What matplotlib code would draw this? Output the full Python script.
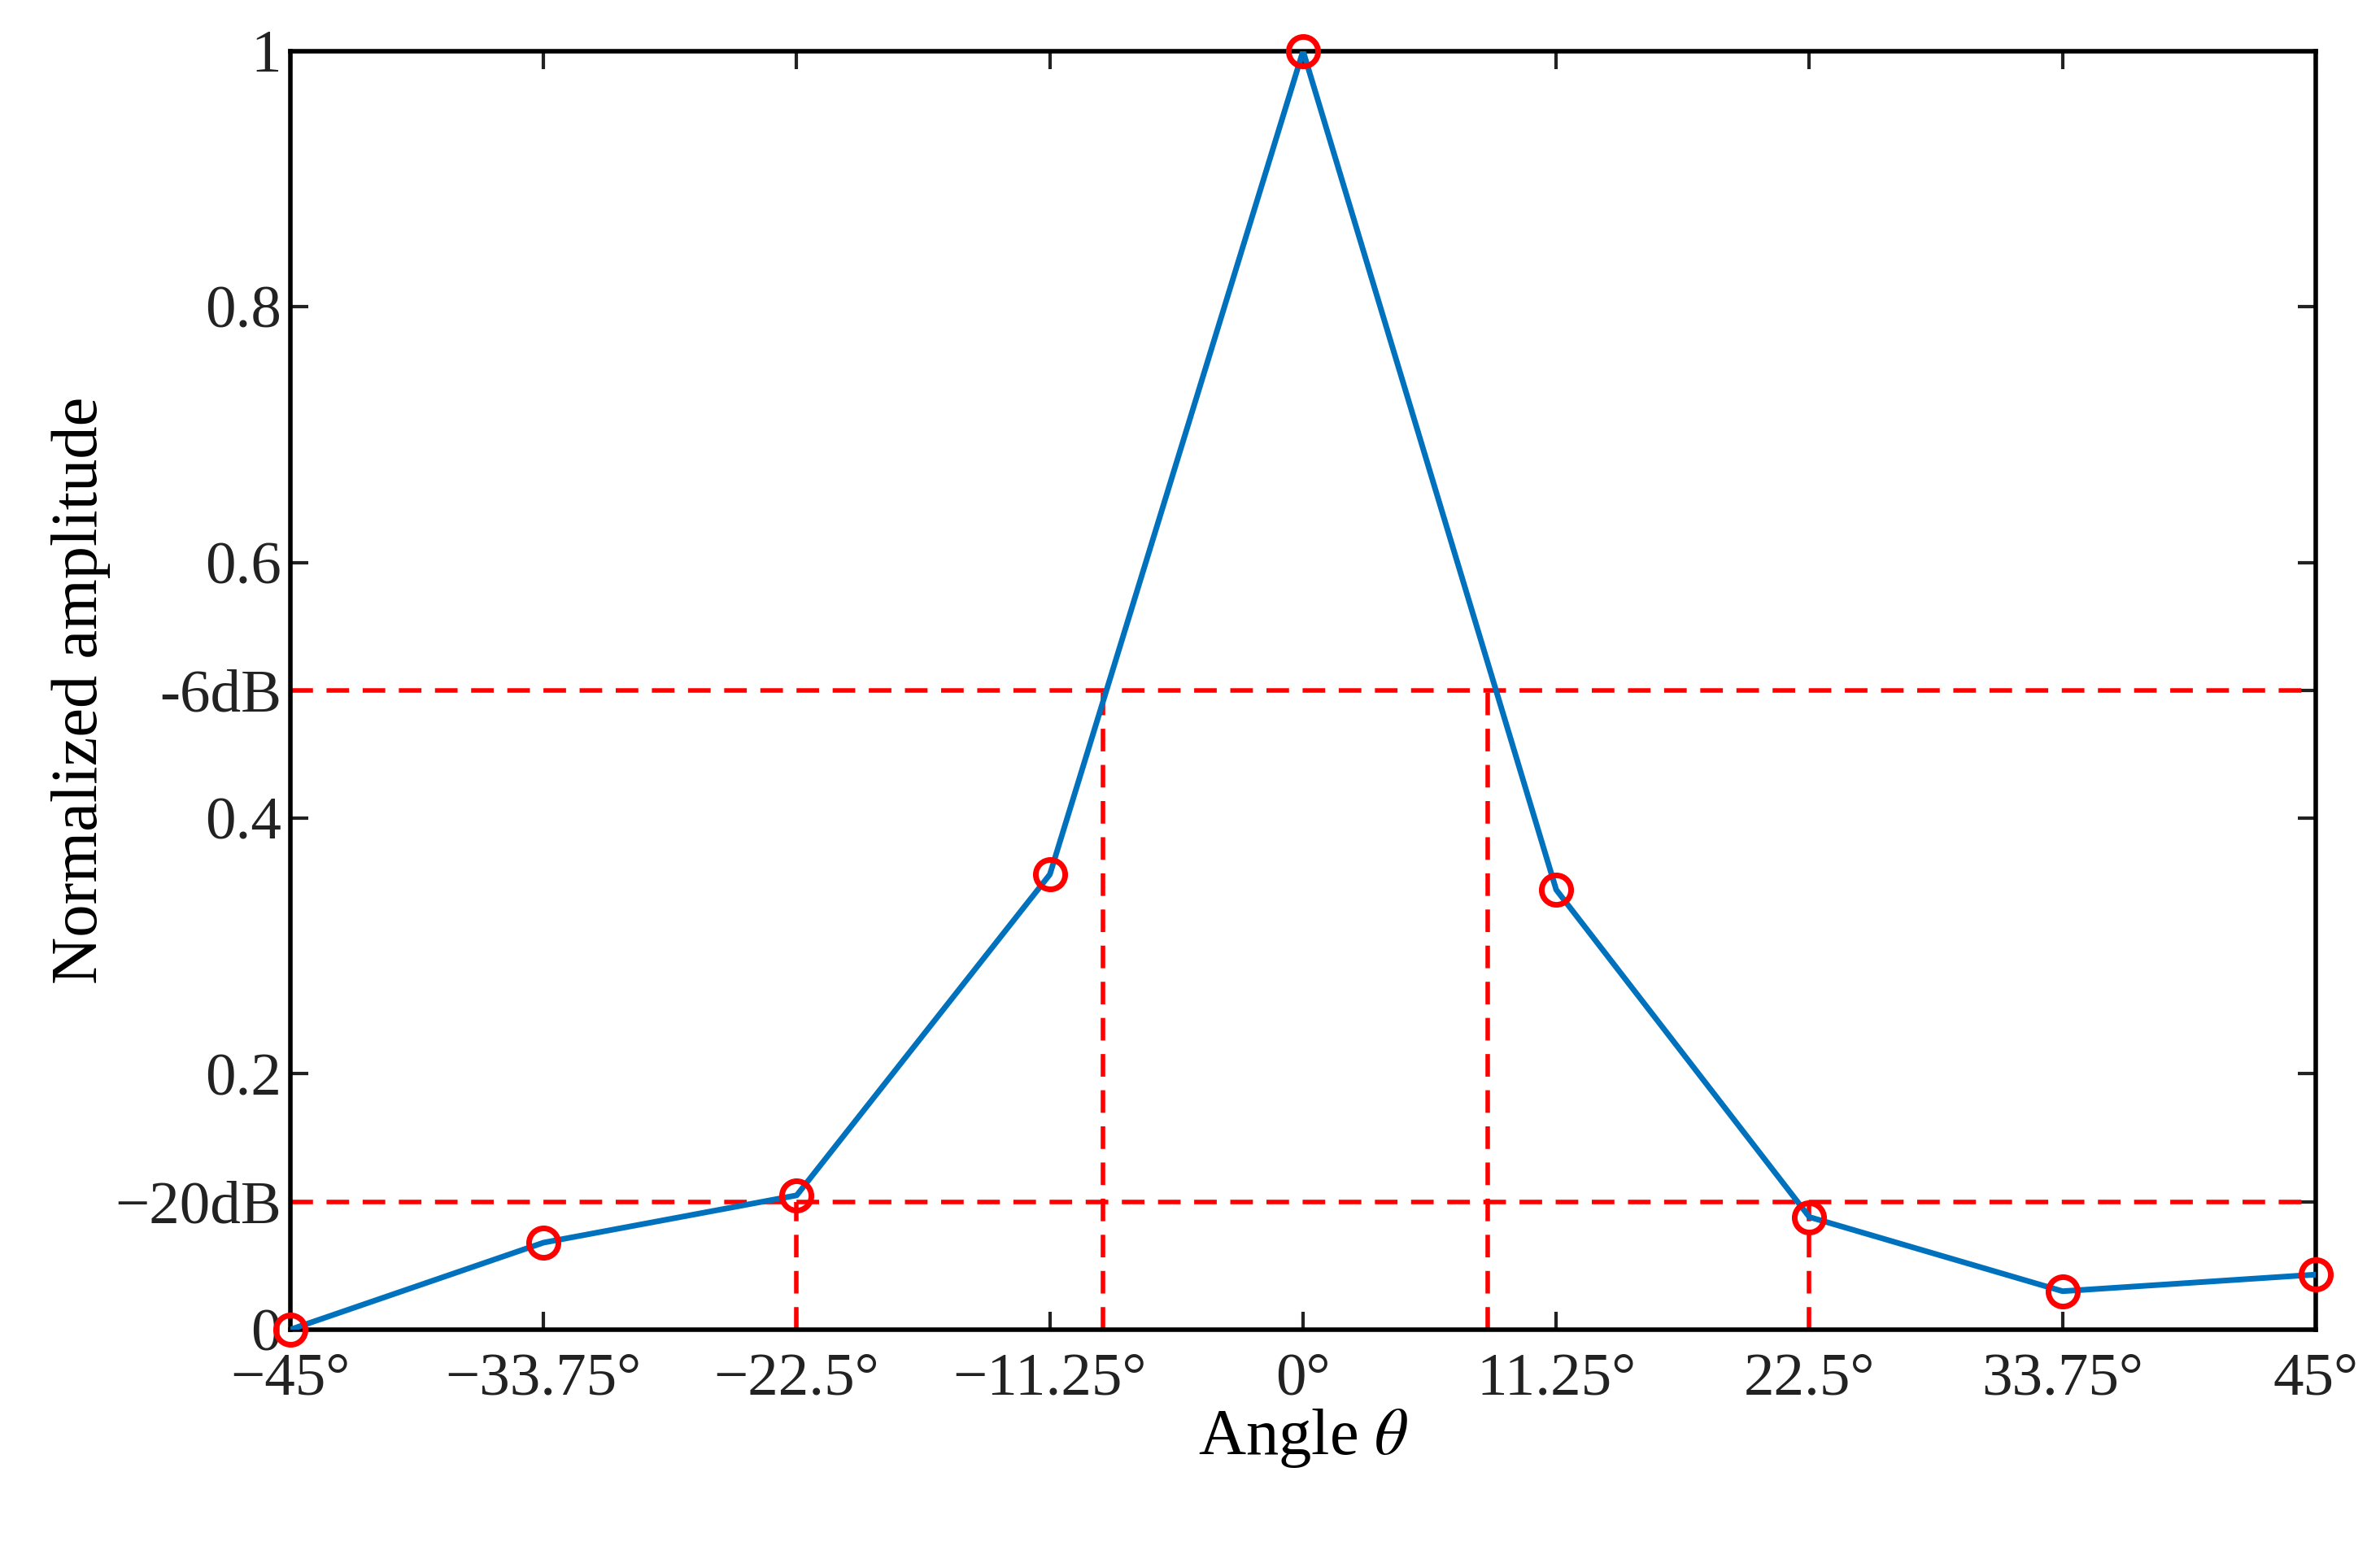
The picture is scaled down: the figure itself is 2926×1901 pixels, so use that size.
import matplotlib
matplotlib.use("Agg")
import matplotlib.pyplot as plt

plt.rcParams['font.family'] = ['Liberation Serif', 'DejaVu Serif']
plt.rcParams['mathtext.fontset'] = 'stix'

angles = [-45, -33.75, -22.5, -11.25, 0, 11.25, 22.5, 33.75, 45]
amplitude = [0.0, 0.068, 0.105, 0.356, 1.0, 0.344, 0.088, 0.030, 0.043]
xtick_labels = ["\u221245\u00b0", "\u221233.75\u00b0", "\u221222.5\u00b0", "\u221211.25\u00b0", "0\u00b0",
                "11.25\u00b0", "22.5\u00b0", "33.75\u00b0", "45\u00b0"]
level_6db = 0.5
level_20db = 0.1
cross_6db = [-8.9, 8.2]
cross_20db = [-22.5, 22.5]
yticks = [0, level_20db, 0.2, 0.4, level_6db, 0.6, 0.8, 1]
ytick_labels = ["0", "\u221220dB", "0.2", "0.4", "-6dB", "0.6", "0.8", "1"]

fig = plt.figure(figsize=(14.63, 9.505), dpi=200)
ax = fig.add_axes([0.122, 0.140, 0.851, 0.827])

red = "#ff0000"
ax.axhline(level_6db, color=red, ls="--", lw=2, dashes=(5, 3))
ax.axhline(level_20db, color=red, ls="--", lw=2, dashes=(5, 3))
for x in cross_6db:
    ax.plot([x, x], [0, level_6db], color=red, ls="--", lw=2, dashes=(5, 3))
for x in cross_20db:
    ax.plot([x, x], [0, level_20db], color=red, ls="--", lw=2, dashes=(5, 3))

ax.plot(angles, amplitude, color="#0072bd", lw=2.5, zorder=3)
ax.plot(angles, amplitude, ls="none", marker="o", ms=13, mfc="none", mec=red, mew=2.5,
        zorder=4, clip_on=False)

ax.set_xlim(-45, 45)
ax.set_ylim(0, 1)
ax.set_xticks(angles)
ax.set_xticklabels(xtick_labels)
ax.set_yticks(yticks)
ax.set_yticklabels(ytick_labels)
ax.tick_params(direction="in", length=8, width=1.5, labelsize=27, top=True, right=True,
               colors="#222222", pad=4)
ax.tick_params(axis="x", pad=10)
for s in ax.spines.values():
    s.set_linewidth(2)
ax.set_xlabel(r"Angle $\theta$", fontsize=29, labelpad=0)
ax.set_ylabel("Normalized amplitude", fontsize=29, labelpad=2)

fig.savefig("out.png", dpi=200)
